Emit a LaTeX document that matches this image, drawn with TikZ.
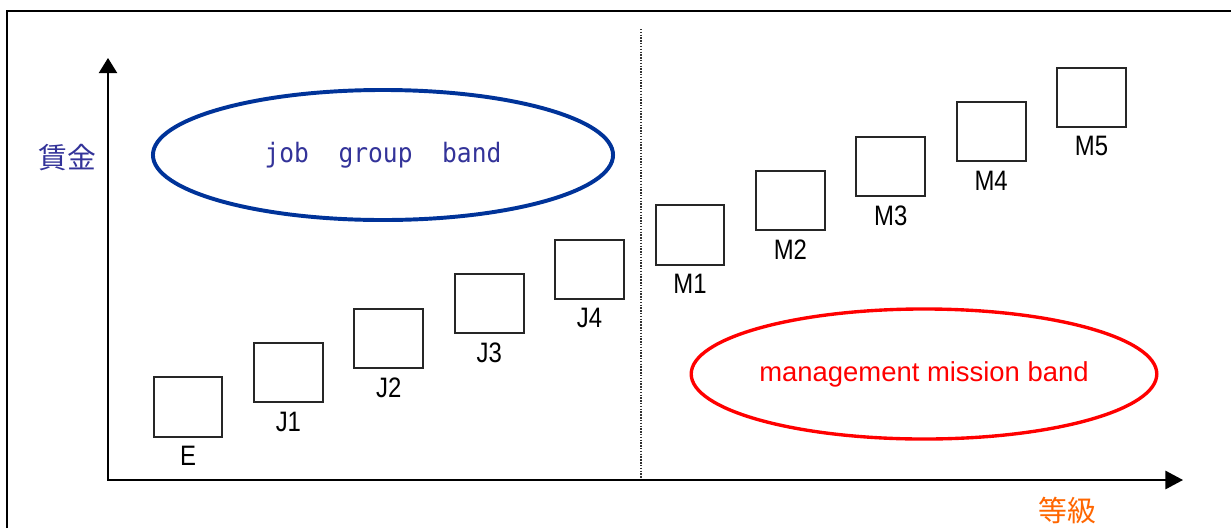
\documentclass[tikz,border=0pt]{standalone}
\usepackage{fontspec}
\setmainfont{Liberation Sans}
\newfontfamily\cjk{Noto Sans CJK JP}
\newfontfamily\narrow[FakeStretch=0.85]{Liberation Sans}
\newfontfamily\monotype[FakeStretch=0.92]{DejaVu Sans Mono}
\usepackage{tikz}
\usetikzlibrary{arrows.meta, positioning, shapes.geometric}

\definecolor{wageblue}{HTML}{333399}
\definecolor{bandblue}{HTML}{003399}
\definecolor{gradeorange}{HTML}{FF6600}

\begin{document}
\begin{tikzpicture}[x=0.025cm, y=-0.025cm,
        grade/.style={draw=black!85, line width=1.4pt, minimum width=1.72cm, minimum height=1.48cm, inner sep=0pt},
        gradename/.style={inner sep=0pt, yshift=-0.21cm, font=\narrow\fontsize{20}{20}\selectfont},
        band/.style={ellipse, minimum width=11.5cm, minimum height=3.25cm, inner sep=0pt},
        axis/.style={line width=1.1pt, {Triangle[length=0.38cm,width=0.46cm]}-{Triangle[length=0.44cm,width=0.46cm]}},
        node distance=0.74cm]
        \useasboundingbox (0,0) rectangle (1231,528);

        \draw[line width=1.8pt] (7,528) -- (7,11) -- (1231,11);

        \coordinate (origin) at (108,480);
        \coordinate (ytip) at (108,58);
        \coordinate (xtip) at (1183,480);
        \coordinate (divtop) at (641,29);

        \draw[black!80, line width=0.8pt, dash pattern=on 1pt off 1pt] (divtop) -- (divtop |- origin);
        \draw[axis] (ytip) -- (origin) -- (xtip);

        \node[text=wageblue, font=\cjk\fontsize{20.5}{22}\selectfont] (wage) at (67,158) {賃金};
        \node[text=gradeorange, font=\cjk\fontsize{20.5}{22}\selectfont] (level) at (1067,510) {等級};

        \node[grade, label={[gradename]below:E}] (e) at (188,407) {};
        \node[grade, label={[gradename]below:J1}, right=of e, yshift=0.86cm] (j1) {};
        \node[grade, label={[gradename]below:J2}, right=of j1, yshift=0.86cm] (j2) {};
        \node[grade, label={[gradename]below:J3}, right=of j2, yshift=0.86cm] (j3) {};
        \node[grade, label={[gradename]below:J4}, right=of j3, yshift=0.86cm] (j4) {};
        \node[grade, label={[gradename]below:M1}, right=of j4, yshift=0.86cm] (m1) {};
        \node[grade, label={[gradename]below:M2}, right=of m1, yshift=0.86cm] (m2) {};
        \node[grade, label={[gradename]below:M3}, right=of m2, yshift=0.86cm] (m3) {};
        \node[grade, label={[gradename]below:M4}, right=of m3, yshift=0.86cm] (m4) {};
        \node[grade, label={[gradename]below:M5}, right=of m4, yshift=0.86cm] (m5) {};

        \node[band, draw=bandblue, line width=2.8pt, text=wageblue, font=\monotype\fontsize{19}{20}\selectfont] (jobband) at (383,155) {job~~group~~band};
        \node[band, draw=red, line width=2.4pt, text=red, font=\fontsize{19.5}{20}\selectfont] (mgmtband) at (924,374) {management mission band};
    \end{tikzpicture}
\end{document}
